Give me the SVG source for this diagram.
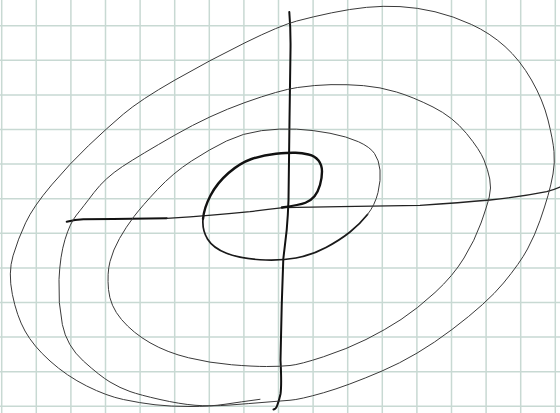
<svg xmlns="http://www.w3.org/2000/svg" width="560" height="413" viewBox="0 0 560 413">
<style>
.grid{stroke:#c8d9d3;stroke-width:1.5;fill:none}
.ink{fill:none;stroke-linecap:round;stroke-linejoin:round}
.thick{stroke:#111;stroke-width:2.4}
.med{stroke:#1a1a1a;stroke-width:1.7}
.thin{stroke:#3a3a3a;stroke-width:1}
.axis{stroke:#111;stroke-width:2}
.axisthin{stroke:#222;stroke-width:1.3}
</style>
<rect width="560" height="413" fill="#ffffff"/>
<g id="grid" class="grid">
<path d="M1.7,0V413M36.3,0V413M70.9,0V413M105.5,0V413M140.1,0V413M174.7,0V413M209.3,0V413M243.9,0V413M278.5,0V413M313.1,0V413M347.7,0V413M382.3,0V413M416.9,0V413M451.5,0V413M486.1,0V413M520.7,0V413M555.3,0V413"/>
<path d="M0,25.7H560M0,60.3H560M0,94.9H560M0,129.5H560M0,164.1H560M0,198.7H560M0,233.3H560M0,267.9H560M0,302.5H560M0,337.1H560M0,371.7H560M0,406.3H560"/>
</g>
<g id="axes" class="ink">
<path id="vertical-axis" class="axis" d="M289.3,12 Q290.8,30 290.5,50 L289.5,120 L288.5,200 Q288,215 286.7,230 L283.3,259 L281.7,306 L280.5,360 Q281.8,385 280.5,394 Q279,401 277,406 Q276,409 273.5,409.5"/>
<path id="horizontal-axis-left" class="axis" d="M66.7,221.7 Q75,219.8 83.3,219.3 L113,219 L166.7,218.3"/>
<path id="horizontal-axis-right" class="axisthin" d="M166.7,218.3 Q215,215.5 250,211.7 Q265,209.5 283.3,207.7 L340,206.7 L420,205.3 Q460,202.7 490,200 Q520,197 546.7,191.7 Q553,190 560,187"/>
</g>
<g id="spiral" class="ink">
<path class="thick" d="M282,207.5 Q300,205 305.5,202.75 Q311,200.5 314.5,196.25 Q318,192 320,185 Q322,178 322,171.5 Q322,165 318.5,160.5 Q315,156 308.5,154.5 Q302,153 295.5,152.75 Q289,152.5 276,153.75 Q263,155 251.5,159 Q240,163 228.5,173 Q217,183 210.5,195.5 Q204,208 203,219"/>
<path class="med" d="M203,219 Q202,230 207.5,239 Q213,248 226.5,253.25 Q240,258.5 260,259.75 Q280,261 296,258 Q312,255 326,247.5 Q340,240 350,232 Q360,224 367.5,214.5"/>
<path class="thin" d="M367.5,214.5 Q375,205 378,192.5 Q381,180 380,170 Q379,160 374.5,153.5 Q370,147 358.5,141.75 Q347,136.5 330,133.25 Q313,130 296.5,129.15 Q280,128.3 261.5,130.65 Q243,133 226.5,141 Q210,149 191.5,161 Q173,173 157.5,189.5 Q142,206 134,216.5 Q126,227 119.5,238.5 Q113,250 110,261.5 Q107,273 108.5,289.5 Q110,306 121.5,319.5 Q133,333 150,342.75 Q167,352.5 188.5,357.75 Q210,363 231.5,364.75 Q253,366.5 266.5,366.5 Q280,366.5 290,365.5 Q300,364.5 323.5,356.75 Q347,349 366,339.5 Q385,330 401,319.5 Q417,309 435,292.5 Q453,276 464,258 Q475,240 481,223 Q487,206 489.25,197 Q491.5,188 489.75,179 Q488,170 484,160 Q480,150 466.5,133.5 Q453,117 433,107 Q413,97 396.5,92 Q380,87 363.5,85.65 Q347,84.3 331,84.65 Q315,85 297.5,87.5 Q280,90 245,102.5 Q210,115 175,135 Q140,155 122.5,166.5 Q105,178 94,192.5 Q83,207 76.5,215 Q70,223 65,239.5 Q60,256 59,279.5 Q58,303 62.35,324.5 Q66.7,346 83.35,361 Q100,376 110,382 Q120,388 130,391.5 Q140,395 160,399.5 Q180,404 195,405.25 Q210,406.5 230,405 Q250,403.5 265,402.25 Q280,401 290,400.25 Q300,399.5 323.5,392.75 Q347,386 382,371 Q417,356 452,329.5 Q487,303 503.5,283 Q520,263 527.5,249 Q535,235 540,220.5 Q545,206 548,195.5 Q551,185 553,174 Q555,163 554,151.5 Q553,140 548,120 Q543,100 531.5,80 Q520,60 505,46.5 Q490,33 471.5,24.5 Q453,16 435,11.75 Q417,7.5 400,6.6 Q383,5.7 366.5,7.35 Q350,9 331.5,12.85 Q313,16.7 296.5,21.1 Q280,25.5 245,42.75 Q210,60 175,80 Q140,100 123.35,114.15 Q106.7,128.3 88.35,145.8 Q70,163.3 51.65,184.9 Q33.3,206.5 25.65,222.75 Q18,239 13,255.85 Q8,272.7 12.35,294.35 Q16.7,316 25,331 Q33.3,346 50,361 Q66.7,376 86.7,386 Q106.7,396 123.35,399.5 Q140,403 155,404.75 Q170,406.5 190,406.5 Q210,406.5 225,404.25 Q240,402 260,399.3"/>
</g>
</svg>
